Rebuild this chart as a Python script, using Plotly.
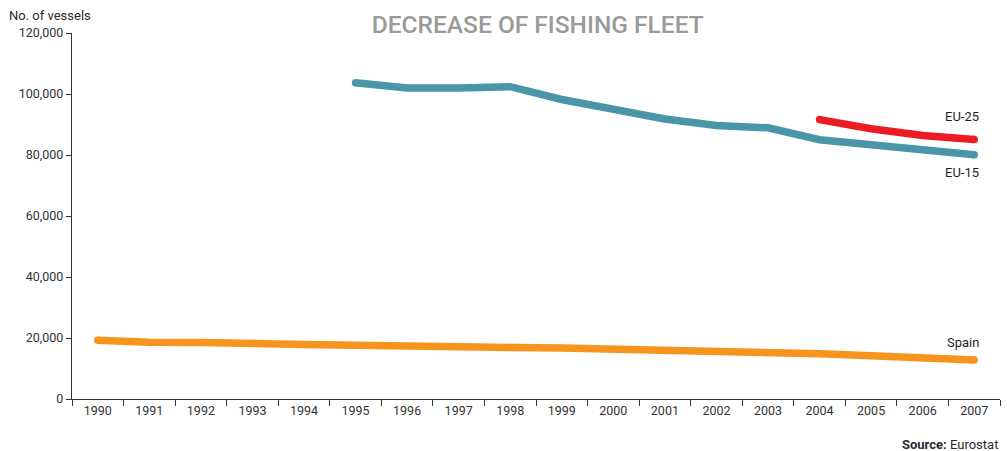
import plotly.graph_objects as go

years = [str(y) for y in range(1990, 2008)]

# Number of fishing vessels per year (None where no figure exists)
eu15 = [None, None, None, None, None,
        103700, 102000, 102000, 102400, 98200, 94800, 91800, 89700, 88900,
        85000, 83300, 81800, 80100]
eu25 = [None] * 14 + [91600, 88600, 86400, 85100]
spain = [19300, 18600, 18550, 18500, 17900, 17600, 17200, 17000, 16900,
         16700, 16400, 16100, 15800, 15500, 14800, 14200, 13700, 12800]

series = [
    ("EU-15", eu15, "#4a96a8"),
    ("EU-25", eu25, "#ed1c24"),
    ("Spain", spain, "#f7941d"),
]

LINE_W = 7.5

fig = go.Figure()
for name, values, color in series:
    present = [i for i, v in enumerate(values) if v is not None]
    # round caps: dots only on the first and last point of each line
    sizes = [LINE_W if i in (present[0], present[-1]) else 0
             for i in range(len(values))]
    fig.add_trace(go.Scatter(
        x=years, y=values, name=name, mode="lines+markers",
        line=dict(color=color, width=LINE_W),
        marker=dict(color=color, size=sizes, opacity=1, line=dict(width=0)),
        connectgaps=False, hoverinfo="x+y+name",
    ))

label_font = dict(family="Roboto", size=13, color="#1f1f1f", weight=400)
last_index = len(years) - 1
line_labels = [("EU-25", 92600), ("EU-15", 74300), ("Spain", 18500)]
for text, ypos in line_labels:
    fig.add_annotation(x=last_index, y=ypos, text=text, showarrow=False,
                       xanchor="right", yanchor="middle", xshift=7,
                       font=label_font)

fig.add_annotation(xref="paper", yref="paper", x=-0.070, y=1.049,
                   text="No. of vessels", showarrow=False,
                   xanchor="left", yanchor="middle",
                   font=dict(family="Roboto", size=13, color="#2b2b2b"))
fig.add_annotation(xref="paper", yref="paper", x=1.0, y=-0.123,
                   text="<b>Source:</b> Eurostat", showarrow=False,
                   xanchor="right", yanchor="middle",
                   font=dict(family="Roboto", size=13, color="#2b2b2b"))

fig.update_layout(
    width=1007, height=451,
    margin=dict(l=72, r=7, t=33, b=52),
    paper_bgcolor="white", plot_bgcolor="white",
    showlegend=False,
    title=dict(text="DECREASE OF FISHING FLEET", x=0.534, xanchor="center",
               y=0.945, yanchor="middle",
               font=dict(family="Roboto", size=24.5, color="#9a9a9a",
                         weight=500)),
    font=dict(family="Roboto", size=12.5, color="#333333"),
)
fig.update_xaxes(
    type="category", range=[-0.5, 17.5], tickson="boundaries",
    ticks="outside", ticklen=6, tickcolor="#333333", tickwidth=1,
    showline=True, linecolor="#333333", linewidth=1.2,
    showgrid=False, zeroline=False,
    tickfont=dict(family="Roboto", size=12.5, color="#333333"),
)
fig.update_yaxes(
    range=[0, 120000], dtick=20000, tickformat=",",
    ticks="outside", ticklen=5, tickcolor="#333333", tickwidth=1,
    showline=True, linecolor="#333333", linewidth=1.2,
    showgrid=False, zeroline=False,
    tickfont=dict(family="Roboto", size=12.5, color="#333333"),
)

fig.write_html("out.html")
